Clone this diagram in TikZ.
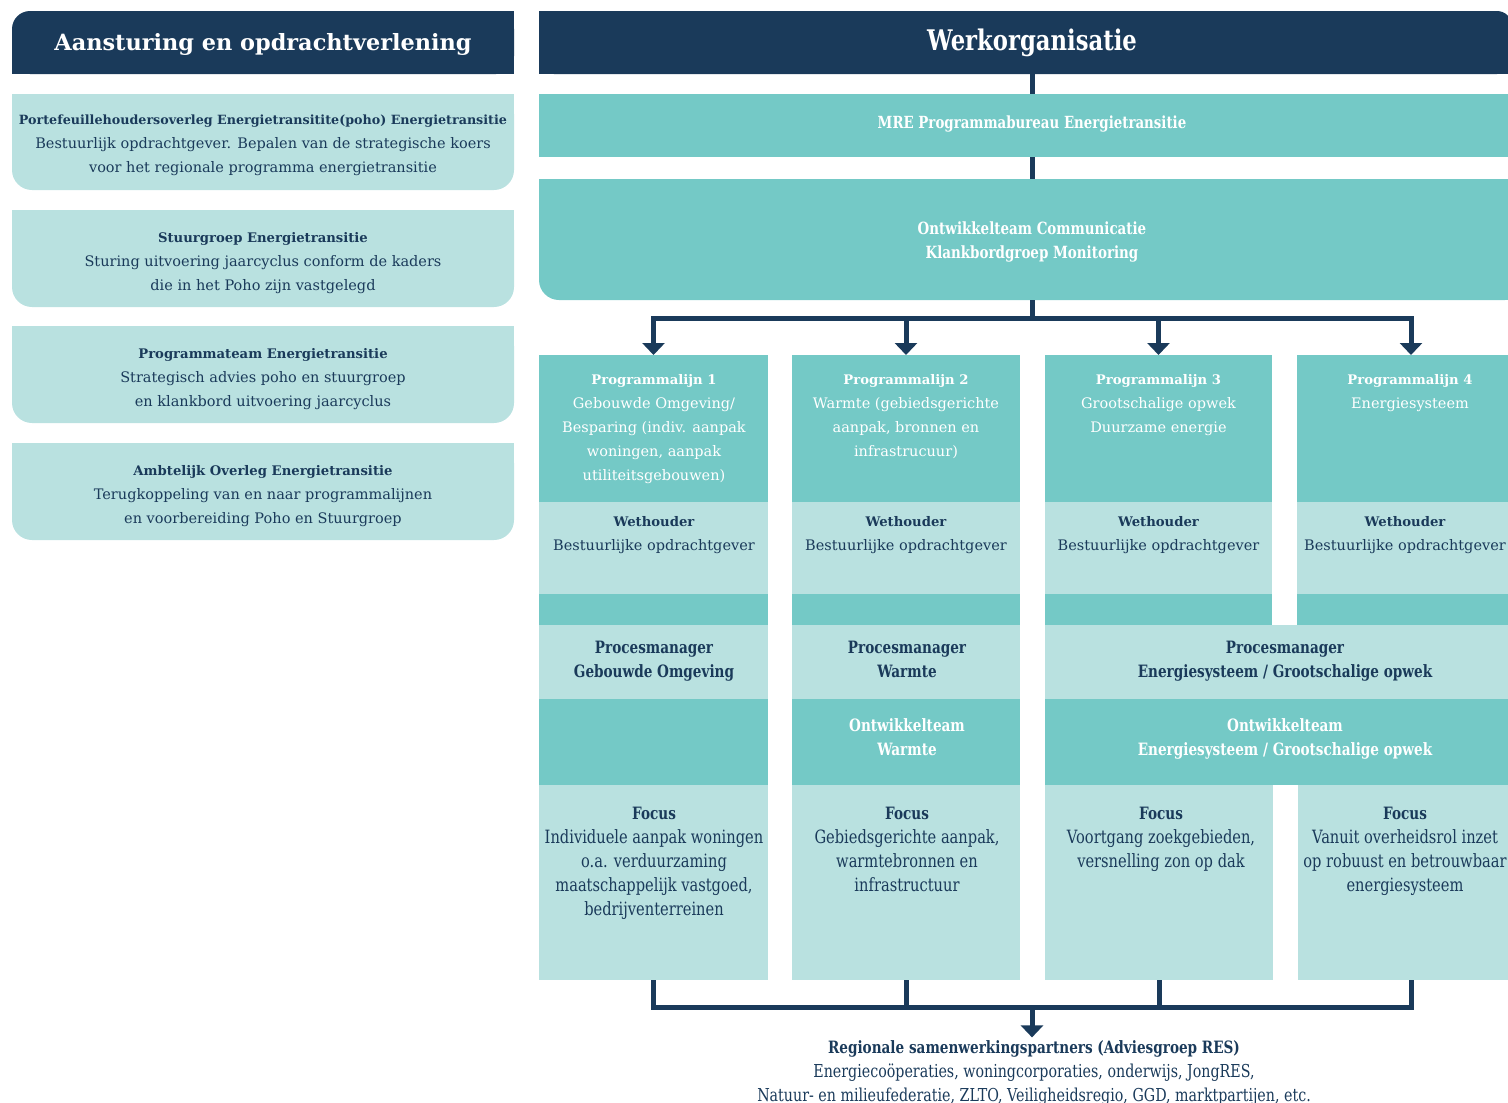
\documentclass[tikz,border=0pt]{standalone}
\usepackage{fontspec}
\setmainfont{DejaVu Serif}
\newfontfamily\smal[FakeStretch=0.8]{DejaVu Serif}
\usetikzlibrary{positioning,arrows.meta}
\definecolor{mreNavy}{HTML}{1A3A5A}
\definecolor{mreTeal}{HTML}{74C9C6}
\definecolor{mreLicht}{HTML}{B9E1E0}
\newcommand{\titel}[1]{{\fontsize{13.2}{24}\selectfont\bfseries #1}}
\newcommand{\smaltitel}[1]{{\fontsize{17}{24}\selectfont\bfseries #1}}

\begin{document}
\begin{tikzpicture}[x=1pt, y=-1pt,
    vlak/.style={rectangle, inner sep=0pt, outer sep=0pt},
    kopvlak/.style={vlak, fill=mreNavy},
    tealvlak/.style={vlak, fill=mreTeal},
    lichtvlak/.style={vlak, fill=mreLicht},
    tekst/.style={align=center, inner sep=0pt, text=mreNavy, font=\fontsize{14.5}{24}\selectfont},
    wittekst/.style={tekst, text=white},
    smaltekst/.style={align=center, inner sep=0pt, text=mreNavy, font=\smal\fontsize{18.3}{24}\selectfont},
    smalvet/.style={align=center, inner sep=0pt, text=mreNavy, font=\smal\bfseries\fontsize{17}{24}\selectfont},
    lijn/.style={draw=mreNavy, line width=5pt},
    pijl/.style={lijn, -{Triangle[width=22pt, length=12pt]}}]

        \clip (0,0) rectangle (1508,1103);

        % Linkerkolom
        \fill[mreNavy] (200,11) rectangle (514,74);
        \fill[mreNavy] (12,40) rectangle (514,74);
        \node[kopvlak, rounded corners=18pt, minimum width=502pt, minimum height=63pt] (aanst) at (263,42.5) {};
        \node[text=white, inner sep=0pt, font=\bfseries\fontsize{22.4}{26}\selectfont] (aansttxt) at (263,44) {Aansturing en opdrachtverlening};

        \fill[mreLicht] (12,94) rectangle (514,130);
        \fill[mreLicht] (12,210) rectangle (514,250);
        \fill[mreLicht] (12,326) rectangle (514,366);
        \fill[mreLicht] (12,443) rectangle (514,483);
        \node[lichtvlak, rounded corners=20pt, minimum width=502pt, minimum height=96pt] (poho) at (263,142) {};
        \node[lichtvlak, rounded corners=20pt, minimum width=502pt, minimum height=97pt] (stuur) at (263,258.5) {};
        \node[lichtvlak, rounded corners=20pt, minimum width=502pt, minimum height=97pt] (progteam) at (263,374.5) {};
        \node[lichtvlak, rounded corners=20pt, minimum width=502pt, minimum height=97pt] (ambt) at (263,491.5) {};

        \node[tekst, anchor=north] (pohotxt) at (263,115)
            {{\fontsize{12.7}{24}\selectfont\bfseries Portefeuillehoudersoverleg Energietransitite(poho) Energietransitie}\\Bestuurlijk opdrachtgever. Bepalen van de strategische koers\\voor het regionale programma energietransitie};
        \node[tekst, anchor=north] (stuurtxt) at (263,232)
            {\titel{Stuurgroep Energietransitie}\\Sturing uitvoering jaarcyclus conform de kaders\\die in het Poho zijn vastgelegd};
        \node[tekst, anchor=north] (progteamtxt) at (263,348)
            {\titel{Programmateam Energietransitie}\\Strategisch advies poho en stuurgroep\\en klankbord uitvoering jaarcyclus};
        \node[tekst, anchor=north] (ambttxt) at (263,465)
            {\titel{Ambtelijk Overleg Energietransitie}\\Terugkoppeling van en naar programmalijnen\\en voorbereiding Poho en Stuurgroep};

        % Werkorganisatie
        \fill[mreNavy] (539,11) rectangle (1300,74);
        \fill[mreNavy] (539,40) rectangle (1512,74);
        \node[kopvlak, rounded corners=15pt, minimum width=973pt, minimum height=63pt] (werk) at (1025.5,42.5) {};
        \node[text=white, inner sep=0pt, font=\smal\bfseries\fontsize{28.4}{30}\selectfont] (werktxt) at (1032,43) {Werkorganisatie};
        \node[tealvlak, minimum width=986pt, minimum height=63pt] (bureau) at (1032,125.5) {};
        \node[smalvet, text=white, font=\smal\bfseries\fontsize{16.7}{24}\selectfont] (bureautxt) at (1032,124) {MRE Programmabureau Energietransitie};
        \fill[mreTeal] (539,179) rectangle (1525,240);
        \fill[mreTeal] (800,179) rectangle (1525,300);
        \node[tealvlak, rounded corners=20pt, minimum width=986pt, minimum height=121pt] (ontwcom) at (1032,239.5) {};
        \node[smalvet, text=white, anchor=north, font=\smal\bfseries\fontsize{16.8}{24}\selectfont] (ontwcomtxt) at (1032,221.5)
            {Ontwikkelteam Communicatie\\Klankbordgroep Monitoring};

        % Programmalijnen
        \node[tealvlak, minimum width=229pt, minimum height=147pt] (lijn1) at (653.5,428.5) {};
        \node[tealvlak, minimum width=228pt, minimum height=147pt] (lijn2) at (906,428.5) {};
        \node[tealvlak, minimum width=227pt, minimum height=147pt] (lijn3) at (1158.5,428.5) {};
        \node[tealvlak, minimum width=228pt, minimum height=147pt] (lijn4) at (1411,428.5) {};

        \node[wittekst, anchor=north] (lijn1txt) at (654,374.5)
            {\titel{Programmalijn 1}\\Gebouwde Omgeving/\\Besparing (indiv. aanpak\\woningen, aanpak\\utiliteitsgebouwen)};
        \node[wittekst, anchor=north] (lijn2txt) at (906,374.5)
            {\titel{Programmalijn 2}\\Warmte (gebiedsgerichte\\aanpak, bronnen en\\infrastrucuur)};
        \node[wittekst, anchor=north] (lijn3txt) at (1158.5,374.5)
            {\titel{Programmalijn 3}\\Grootschalige opwek\\Duurzame energie};
        \node[wittekst, anchor=north] (lijn4txt) at (1410,374.5)
            {\titel{Programmalijn 4}\\Energiesysteem};

        % Wethouders
        \node[lichtvlak, minimum width=229pt, minimum height=92pt] (weth1) at (653.5,548) {};
        \node[lichtvlak, minimum width=228pt, minimum height=92pt] (weth2) at (906,548) {};
        \node[lichtvlak, minimum width=227pt, minimum height=92pt] (weth3) at (1158.5,548) {};
        \node[lichtvlak, minimum width=228pt, minimum height=92pt] (weth4) at (1411,548) {};
        \node[tekst, anchor=north] (weth1txt) at (654,516.7) {\titel{Wethouder}\\Bestuurlijke opdrachtgever};
        \node[tekst, anchor=north] (weth2txt) at (906,516.7) {\titel{Wethouder}\\Bestuurlijke opdrachtgever};
        \node[tekst, anchor=north] (weth3txt) at (1158.5,516.7) {\titel{Wethouder}\\Bestuurlijke opdrachtgever};
        \node[tekst, anchor=north] (weth4txt) at (1405,516.7) {\titel{Wethouder}\\Bestuurlijke opdrachtgever};

        % Tussenstrook
        \node[tealvlak, minimum width=229pt, minimum height=31pt] (strook1) at (653.5,609.5) {};
        \node[tealvlak, minimum width=228pt, minimum height=31pt] (strook2) at (906,609.5) {};
        \node[tealvlak, minimum width=227pt, minimum height=31pt] (strook3) at (1158.5,609.5) {};
        \node[tealvlak, minimum width=228pt, minimum height=31pt] (strook4) at (1411,609.5) {};

        % Procesmanagers
        \node[lichtvlak, minimum width=229pt, minimum height=74pt] (proc1) at (653.5,662) {};
        \node[lichtvlak, minimum width=228pt, minimum height=74pt] (proc2) at (906,662) {};
        \node[lichtvlak, minimum width=480pt, minimum height=74pt] (proc34) at (1285,662) {};
        \node[smalvet, anchor=north] (proc1txt) at (654,640.4) {Procesmanager\\Gebouwde Omgeving};
        \node[smalvet, anchor=north] (proc2txt) at (907,640.4) {Procesmanager\\Warmte};
        \node[smalvet, anchor=north] (proc34txt) at (1285,640.4) {Procesmanager\\Energiesysteem / Grootschalige opwek};

        % Ontwikkelteams
        \node[tealvlak, minimum width=229pt, minimum height=86pt] (ontw1) at (653.5,742) {};
        \node[tealvlak, minimum width=228pt, minimum height=86pt] (ontw2) at (906,742) {};
        \node[tealvlak, minimum width=480pt, minimum height=86pt] (ontw34) at (1285,742) {};
        \node[smalvet, text=white, anchor=north] (ontw2txt) at (907,718.4) {Ontwikkelteam\\Warmte};
        \node[smalvet, text=white, anchor=north] (ontw34txt) at (1285,718.4) {Ontwikkelteam\\Energiesysteem / Grootschalige opwek};

        % Focus
        \node[lichtvlak, minimum width=229pt, minimum height=195pt] (focus1) at (653.5,882.5) {};
        \node[lichtvlak, minimum width=228pt, minimum height=195pt] (focus2) at (906,882.5) {};
        \node[lichtvlak, minimum width=228pt, minimum height=195pt] (focus3) at (1159,882.5) {};
        \node[lichtvlak, minimum width=227pt, minimum height=195pt] (focus4) at (1411.5,882.5) {};
        \node[smaltekst, anchor=north] (focus1txt) at (654,806.4)
            {\smaltitel{Focus}\\Individuele aanpak woningen\\o.a. verduurzaming\\maatschappelijk vastgoed,\\bedrijventerreinen};
        \node[smaltekst, anchor=north] (focus2txt) at (907,806.4)
            {\smaltitel{Focus}\\Gebiedsgerichte aanpak,\\warmtebronnen en\\infrastructuur};
        \node[smaltekst, anchor=north] (focus3txt) at (1161,806.4)
            {\smaltitel{Focus}\\Voortgang zoekgebieden,\\versnelling zon op dak};
        \node[smaltekst, anchor=north] (focus4txt) at (1405,806.4)
            {\smaltitel{Focus}\\Vanuit overheidsrol inzet\\op robuust en betrouwbaar\\energiesysteem};

        % Partners
        \node[smaltekst, anchor=north, font=\smal\fontsize{17.8}{24}\selectfont] (partners) at (1034,1040.4)
            {\smaltitel{Regionale samenwerkingspartners (Adviesgroep RES)}\\Energiecoöperaties, woningcorporaties, onderwijs, JongRES,\\Natuur- en milieufederatie, ZLTO, Veiligheidsregio, GGD, marktpartijen, etc.};

        % Verbindingen boven
        \draw[lijn] (werk.south -| bureau.north) -- (bureau.north);
        \draw[lijn] (bureau.south) -- (ontwcom.north);
        \draw[lijn] (ontwcom.south) -- ++(0,18) coordinate (verdeel);
        \draw[pijl] (verdeel) -| (lijn1.north);
        \draw[pijl] (verdeel) -| (lijn2.north);
        \draw[pijl] (verdeel) -| (lijn3.north);
        \draw[pijl] (verdeel) -| (lijn4.north);

        % Verbindingen onder
        \coordinate (verzamel) at (1032,1007);
        \draw[lijn] (focus1.south) |- (verzamel);
        \draw[lijn] (focus2.south) |- (verzamel);
        \draw[lijn] (focus3.south) |- (verzamel);
        \draw[lijn] (focus4.south) |- (verzamel);
        \draw[pijl] (verzamel) -- ([yshift=3pt]verzamel |- partners.north);

    \end{tikzpicture}
\end{document}
